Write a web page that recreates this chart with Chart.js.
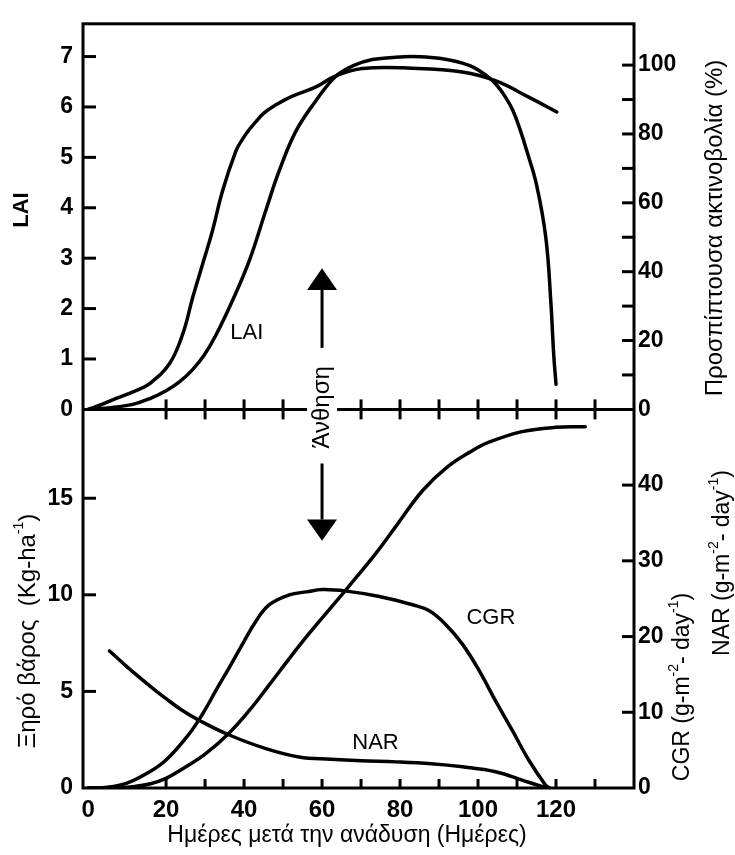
<!DOCTYPE html>
<html><head><meta charset="utf-8">
<script src="https://cdn.jsdelivr.net/npm/chart.js@4"></script>
<style>html,body{margin:0;padding:0;background:#fff}canvas{display:block}</style>
</head><body>
<canvas id="c" width="735" height="855"></canvas>
<script>
// ---- data ----
const laiDays   = [0, 5, 11.5, 16, 20, 23.5, 26.8, 29.8, 32.7, 37.1, 41.4, 45.6, 49, 53.3, 58.3, 63.4, 68, 72.9, 78, 83, 88, 92, 96, 99, 102, 104.6, 107, 109, 111, 112.5, 115, 117.4, 118.7, 119.4, 120];
const laiValues = [0, 0.03, 0.1, 0.22, 0.37, 0.55, 0.79, 1.08, 1.46, 2.17, 2.96, 3.95, 4.73, 5.52, 6.11, 6.6, 6.82, 6.94, 6.98, 7.0, 6.98, 6.94, 6.87, 6.78, 6.63, 6.45, 6.2, 5.92, 5.5, 5.13, 4.46, 3.4, 2.1, 1.1, 0.5];

const radDays   = [0, 3, 7.2, 12, 15.8, 20.9, 24.3, 26.9, 29.4, 31.9, 34.5, 37.9, 39.5, 41, 43, 45, 47.8, 52, 58.3, 63.4, 70.3, 83, 96, 104.6, 113, 120.2];
const radValues = [0, 1.2, 3.2, 5.3, 7.5, 13.3, 22, 32.8, 42.3, 51.9, 63.5, 75, 78.3, 80.8, 83.5, 86, 88.2, 90.8, 93.6, 96.8, 99.0, 99.1, 98, 95.4, 90.7, 86.4];

const dwDays   = [0, 8, 12, 16, 20, 24.3, 30, 36.2, 41.3, 46.5, 51.6, 56.7, 61.9, 66.5, 74, 79.5, 85.8, 92, 98, 102.8, 111.3, 119.9, 127.5];
const dwValues = [0, 0.02, 0.08, 0.22, 0.5, 1.0, 1.75, 2.85, 4.0, 5.35, 6.7, 8.0, 9.25, 10.35, 12.2, 13.7, 15.4, 16.6, 17.4, 17.9, 18.45, 18.67, 18.7];

const cgrDays   = [0, 5, 9.8, 15, 20, 26, 29.4, 32.8, 36.2, 39.6, 43, 46.5, 51.6, 56, 60.1, 66.2, 74.7, 83.2, 87.5, 91.7, 96, 100.3, 104.5, 108.8, 113, 117.3, 118.3];
const cgrValues = [0, 0.1, 0.6, 1.9, 3.7, 7.2, 9.8, 12.9, 15.9, 19, 22, 24.2, 25.5, 25.9, 26.2, 26, 25.3, 24.2, 23.4, 21.6, 19, 15.5, 11.5, 7.6, 3.7, 0.4, 0];

const narDays   = [5.5, 10, 15.8, 20, 24.3, 28.6, 36.2, 45.6, 54.1, 62.3, 70, 79, 88, 96, 104.5, 111.3, 116.4, 118.2];
const narValues = [18.1, 16.0, 13.5, 11.8, 10.2, 8.9, 7.0, 5.2, 4.1, 3.8, 3.6, 3.45, 3.2, 2.8, 2.15, 1.05, 0.2, 0];

const dayLabels = [0, 20, 40, 60, 80, 100, 120];
const dayMarks  = [20, 30, 40, 50, 60, 70, 80, 90, 100, 110, 120, 130];
const laiTicks  = [0, 1, 2, 3, 4, 5, 6, 7];
const radTicks  = [0, 20, 40, 60, 80, 100];
const radMarks  = [10, 20, 30, 40, 50, 60, 70, 80, 90, 100];
const dwTicks   = [0, 5, 10, 15];
const rateTicks = [0, 10, 20, 30, 40];
const floweringDay = 60;

// ---- rendering ----
const FONT = "'Liberation Sans', Arial, sans-serif";
const pts = (xs, ys) => xs.map((x, i) => ({x: x, y: ys[i]}));
const fixTicks = vals => scale => { scale.ticks = vals.map(v => ({value: v})); };
const tickFont = {family: FONT, size: 23, weight: 'bold'};

function yAxis(pos, stack, sw, w, min, max, vals, width) {
  return {
    type: 'linear', position: pos, stack: stack, stackWeight: sw, weight: w,
    min: min, max: max, afterBuildTicks: fixTicks(vals),
    afterFit: s => { s.width = width; },
    grid: {display: false, drawTicks: false}, border: {display: false},
    ticks: {font: tickFont, color: '#000', padding: pos === 'left' ? 10 : 4, autoSkip: false}
  };
}

function drawRich(ctx, segs, cx, cy, size, rot, weight) {
  ctx.save();
  ctx.translate(cx, cy); ctx.rotate(rot);
  const f = s => (weight || 'normal') + ' ' + (s.sup ? Math.round(size * 0.6) : size) + 'px ' + FONT;
  let total = 0;
  const ws = segs.map(s => { ctx.font = f(s); const w = ctx.measureText(s.t).width; total += w; return w; });
  let x = -total / 2;
  ctx.textBaseline = 'middle'; ctx.textAlign = 'left'; ctx.fillStyle = '#000';
  segs.forEach((s, i) => { ctx.font = f(s); ctx.fillText(s.t, x, s.sup ? -size * 0.38 : 0); x += ws[i]; });
  ctx.restore();
}

const decor = {
  id: 'decor',
  afterDraw(chart) {
    const ctx = chart.ctx, a = chart.chartArea, sc = chart.scales;
    const X = sc.x, TL = sc.yTopL, TR = sc.yTopR, BL = sc.yBotL, BR = sc.yBotR;
    const mid = TL.getPixelForValue(0);
    ctx.save();
    ctx.strokeStyle = '#000'; ctx.fillStyle = '#000'; ctx.lineWidth = 3; ctx.lineCap = 'butt';
    ctx.strokeRect(a.left, a.top, a.right - a.left, a.bottom - a.top);
    const line = (x1, y1, x2, y2) => { ctx.beginPath(); ctx.moveTo(x1, y1); ctx.lineTo(x2, y2); ctx.stroke(); };
    line(a.left, mid, a.right, mid);
    laiTicks.filter(v => v > 0).forEach(v => { const y = TL.getPixelForValue(v); line(a.left, y, a.left + 13, y); });
    dwTicks.filter(v => v > 0).forEach(v => { const y = BL.getPixelForValue(v); line(a.left, y, a.left + 13, y); });
    radMarks.forEach(v => { const y = TR.getPixelForValue(v); line(a.right - 12, y, a.right, y); });
    rateTicks.filter(v => v > 0).forEach(v => { const y = BR.getPixelForValue(v); line(a.right - 12, y, a.right, y); });
    dayMarks.forEach(d => {
      const x = X.getPixelForValue(d);
      if (d !== floweringDay) line(x, mid - 10, x, mid + 10);
      line(x, a.bottom - 9, x, a.bottom);
    });
    // flowering marker
    const fx = X.getPixelForValue(floweringDay);
    ctx.fillStyle = '#fff'; ctx.fillRect(fx - 15, mid - 44, 30, 88);
    ctx.fillStyle = '#000';
    drawRich(ctx, [{t: 'Άνθηση'}], fx, mid - 2, 24, -Math.PI / 2);
    const arrow = (yFrom, yBase, yTip) => {
      line(fx, yFrom, fx, yBase);
      ctx.beginPath(); ctx.moveTo(fx - 15, yBase); ctx.lineTo(fx + 15, yBase); ctx.lineTo(fx, yTip); ctx.closePath(); ctx.fill();
    };
    arrow(TL.getPixelForValue(1.22), TL.getPixelForValue(2.37), TL.getPixelForValue(2.8));
    arrow(BL.getPixelForValue(16.8), BL.getPixelForValue(13.9), BL.getPixelForValue(12.8));
    // curve labels
    ctx.font = '22px ' + FONT; ctx.textAlign = 'center'; ctx.textBaseline = 'middle';
    ctx.fillText('LAI', X.getPixelForValue(40.7), TL.getPixelForValue(1.52));
    ctx.fillText('CGR', X.getPixelForValue(103.3), BR.getPixelForValue(22.4));
    ctx.fillText('NAR', X.getPixelForValue(73.7), BR.getPixelForValue(6.0));
    // axis titles
    const up = -Math.PI / 2;
    drawRich(ctx, [{t: 'LAI'}], 22, 210, 22, up, 'bold');
    drawRich(ctx, [{t: 'Προσπίπτουσα ακτινοβολία (%)'}], 715, 228, 24, up);
    drawRich(ctx, [{t: 'Ξηρό βάρος  (Kg-ha'}, {t: '-1', sup: true}, {t: ')'}], 28, 631, 24, up);
    drawRich(ctx, [{t: 'CGR (g-m'}, {t: '-2', sup: true}, {t: '- day'}, {t: '-1', sup: true}, {t: ')'}], 683, 687, 23, up);
    drawRich(ctx, [{t: 'NAR (g-m'}, {t: '-2', sup: true}, {t: '- day'}, {t: '-1', sup: true}, {t: ')'}], 723, 563, 23, up);
    drawRich(ctx, [{t: 'Ημέρες μετά την ανάδυση (Ημέρες)'}], 347, 836, 23, 0);
    ctx.restore();
  }
};

const common = {borderColor: '#000', borderWidth: 3.5, pointRadius: 0, fill: false, tension: 0.4, borderCapStyle: 'round', borderJoinStyle: 'round'};

new Chart(document.getElementById('c'), {
  type: 'line',
  data: {
    datasets: [
      Object.assign({label: 'LAI', data: pts(laiDays, laiValues), yAxisID: 'yTopL'}, common),
      Object.assign({label: 'Προσπίπτουσα ακτινοβολία (%)', data: pts(radDays, radValues), yAxisID: 'yTopR'}, common),
      Object.assign({label: 'Ξηρό βάρος', data: pts(dwDays, dwValues), yAxisID: 'yBotL'}, common),
      Object.assign({label: 'CGR', data: pts(cgrDays, cgrValues), yAxisID: 'yBotR'}, common),
      Object.assign({label: 'NAR', data: pts(narDays, narValues), yAxisID: 'yBotR'}, common)
    ]
  },
  options: {
    responsive: false, animation: false, devicePixelRatio: 1,
    layout: {padding: {top: 19, left: 0, right: 0, bottom: 0}},
    plugins: {legend: {display: false}, tooltip: {enabled: false}},
    scales: {
      x: {
        type: 'linear', position: 'bottom', min: -1.3, max: 140,
        afterBuildTicks: fixTicks(dayLabels), afterFit: s => { s.height = 67; },
        grid: {display: false, drawTicks: false}, border: {display: false},
        ticks: {font: {family: FONT, size: 24, weight: 'bold'}, color: '#000', padding: 8, maxRotation: 0, autoSkip: false}
      },
      yTopL: yAxis('left', 'L', 388, 2, 0, 7.65, laiTicks, 83),
      yBotL: yAxis('left', 'L', 381, 1, 0, 19.6, dwTicks, 83),
      yTopR: yAxis('right', 'R', 388, 1, 0, 112, radTicks, 101),
      yBotR: yAxis('right', 'R', 381, 2, 0, 50, rateTicks, 101)
    }
  },
  plugins: [decor]
});
</script>
</body></html>
